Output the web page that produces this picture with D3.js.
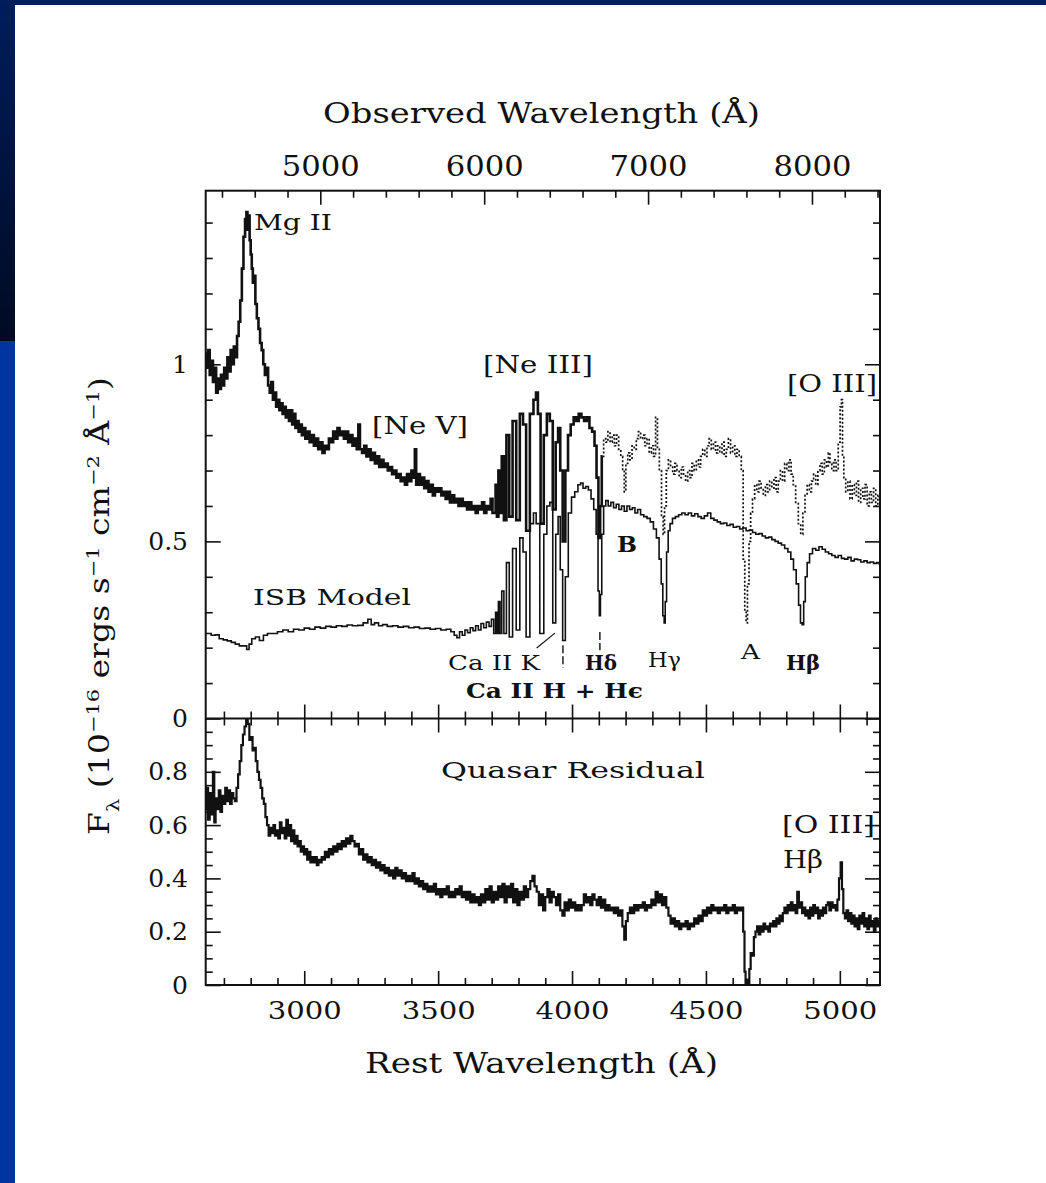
<!DOCTYPE html>
<html>
<head>
<meta charset="utf-8">
<script src="https://cdn.jsdelivr.net/npm/d3@7"></script>
<style>
  html, body { margin: 0; padding: 0; background: #fff; }
  text { font-family: "DejaVu Serif", serif; fill: #111; }
</style>
</head>
<body>
<script>
// ---- data: [rest wavelength (A), F_lambda] ----
var obsSolid = [[2632,1.03],[2638,0.99],[2644,1.04],[2650,0.97],[2656,1.01],[2662,0.95],[2668,0.99],[2674,0.92],[2680,0.96],[2686,0.93],[2692,0.97],[2698,0.94],[2704,0.99],[2710,0.96],[2716,1.02],[2722,0.98],[2728,1.04],[2734,1.00],[2740,1.05],[2746,1.02],[2752,1.08],[2758,1.12],[2764,1.18],[2770,1.27],[2776,1.36],[2782,1.41],[2786,1.43],[2790,1.38],[2794,1.42],[2798,1.35],[2802,1.31],[2806,1.27],[2810,1.23],[2815,1.25],[2820,1.17],[2826,1.13],[2832,1.10],[2838,1.06],[2844,1.04],[2850,1.00],[2856,0.97],[2862,0.99],[2868,0.94],[2874,0.92],[2880,0.95],[2886,0.90],[2892,0.92],[2898,0.88],[2904,0.90],[2910,0.87],[2916,0.89],[2922,0.86],[2928,0.88],[2934,0.85],[2940,0.87],[2946,0.84],[2952,0.87],[2958,0.83],[2964,0.86],[2970,0.82],[2976,0.84],[2982,0.81],[2988,0.83],[2994,0.80],[3000,0.82],[3008,0.79],[3016,0.81],[3024,0.78],[3032,0.80],[3040,0.77],[3048,0.79],[3056,0.76],[3064,0.78],[3072,0.75],[3080,0.77],[3088,0.76],[3096,0.79],[3104,0.78],[3112,0.81],[3120,0.79],[3128,0.82],[3136,0.80],[3144,0.81],[3152,0.79],[3160,0.81],[3168,0.78],[3176,0.80],[3184,0.77],[3192,0.79],[3200,0.76],[3204,0.83],[3212,0.76],[3220,0.75],[3228,0.77],[3236,0.74],[3244,0.76],[3252,0.73],[3260,0.75],[3268,0.72],[3276,0.74],[3284,0.71],[3292,0.73],[3300,0.71],[3308,0.72],[3316,0.70],[3324,0.71],[3332,0.69],[3340,0.70],[3348,0.68],[3356,0.69],[3364,0.67],[3372,0.68],[3380,0.66],[3388,0.69],[3396,0.67],[3404,0.70],[3410,0.68],[3416,0.76],[3420,0.66],[3428,0.69],[3436,0.66],[3444,0.68],[3452,0.65],[3460,0.67],[3468,0.64],[3476,0.66],[3484,0.63],[3492,0.65],[3500,0.64],[3508,0.65],[3516,0.63],[3524,0.64],[3532,0.62],[3540,0.64],[3548,0.61],[3556,0.63],[3564,0.61],[3572,0.62],[3580,0.60],[3588,0.62],[3596,0.60],[3604,0.61],[3612,0.59],[3620,0.61],[3628,0.59],[3636,0.60],[3644,0.58],[3652,0.60],[3660,0.59],[3668,0.61],[3676,0.58],[3684,0.60],[3692,0.59],[3700,0.62],[3706,0.58],[3712,0.58],[3717,0.66],[3722,0.57],[3728,0.70],[3734,0.58],[3741,0.74],[3750,0.56],[3760,0.80],[3771,0.57],[3785,0.84],[3798,0.56],[3812,0.86],[3822,0.83],[3835,0.53],[3850,0.86],[3862,0.90],[3869,0.92],[3876,0.86],[3889,0.55],[3900,0.80],[3912,0.86],[3922,0.84],[3934,0.59],[3944,0.78],[3952,0.82],[3960,0.70],[3970,0.50],[3980,0.70],[3990,0.80],[4000,0.83],[4012,0.85],[4020,0.84],[4030,0.86],[4040,0.85],[4050,0.84],[4060,0.85],[4070,0.82],[4080,0.81],[4088,0.77],[4095,0.68],[4102,0.51],[4108,0.60],[4114,0.74]];

var obsDotted = [[4114,0.74],[4122,0.79],[4130,0.78],[4138,0.81],[4146,0.78],[4154,0.80],[4162,0.77],[4170,0.80],[4178,0.76],[4186,0.74],[4192,0.70],[4198,0.64],[4204,0.72],[4212,0.75],[4220,0.73],[4228,0.77],[4236,0.76],[4244,0.79],[4252,0.81],[4260,0.79],[4268,0.80],[4276,0.77],[4284,0.79],[4292,0.75],[4300,0.77],[4308,0.74],[4316,0.85],[4322,0.76],[4330,0.70],[4338,0.57],[4343,0.52],[4348,0.60],[4356,0.70],[4364,0.73],[4372,0.71],[4380,0.69],[4388,0.72],[4396,0.70],[4404,0.68],[4412,0.71],[4420,0.69],[4428,0.67],[4436,0.70],[4444,0.68],[4452,0.72],[4460,0.70],[4468,0.73],[4476,0.71],[4484,0.74],[4492,0.76],[4500,0.74],[4508,0.77],[4516,0.79],[4524,0.76],[4532,0.78],[4540,0.75],[4548,0.77],[4556,0.75],[4564,0.78],[4572,0.74],[4580,0.76],[4588,0.79],[4596,0.75],[4604,0.77],[4612,0.74],[4620,0.76],[4628,0.74],[4636,0.70],[4642,0.45],[4648,0.30],[4652,0.27],[4658,0.38],[4664,0.50],[4670,0.58],[4678,0.62],[4686,0.66],[4694,0.64],[4702,0.67],[4710,0.65],[4718,0.63],[4726,0.66],[4734,0.64],[4742,0.67],[4750,0.65],[4758,0.68],[4766,0.64],[4774,0.67],[4782,0.70],[4790,0.67],[4798,0.72],[4806,0.70],[4814,0.73],[4822,0.69],[4830,0.66],[4840,0.61],[4850,0.55],[4858,0.52],[4866,0.58],[4874,0.63],[4882,0.66],[4890,0.64],[4898,0.67],[4906,0.69],[4914,0.66],[4922,0.70],[4930,0.72],[4938,0.69],[4946,0.73],[4954,0.71],[4960,0.75],[4966,0.72],[4974,0.70],[4982,0.73],[4990,0.70],[4998,0.78],[5004,0.88],[5008,0.90],[5012,0.74],[5018,0.68],[5026,0.64],[5034,0.67],[5042,0.62],[5050,0.66],[5058,0.63],[5066,0.67],[5074,0.61],[5082,0.65],[5090,0.62],[5098,0.66],[5106,0.60],[5114,0.64],[5122,0.61],[5130,0.65],[5138,0.60],[5146,0.63],[5150,0.62]];

var isbModel = [[2632,0.24],[2645,0.24],[2660,0.235],[2675,0.236],[2690,0.225],[2705,0.222],[2720,0.219],[2735,0.215],[2750,0.21],[2765,0.205],[2780,0.205],[2790,0.195],[2798,0.21],[2810,0.225],[2825,0.23],[2840,0.22],[2855,0.235],[2870,0.24],[2890,0.24],[2910,0.245],[2930,0.25],[2950,0.245],[2970,0.252],[2990,0.25],[3010,0.255],[3030,0.252],[3050,0.258],[3070,0.255],[3090,0.26],[3110,0.258],[3130,0.262],[3150,0.26],[3170,0.264],[3190,0.262],[3210,0.263],[3230,0.27],[3245,0.28],[3255,0.265],[3270,0.27],[3285,0.262],[3300,0.265],[3320,0.26],[3340,0.262],[3360,0.258],[3380,0.26],[3400,0.256],[3420,0.258],[3440,0.254],[3460,0.255],[3480,0.252],[3500,0.254],[3520,0.25],[3540,0.252],[3555,0.245],[3565,0.235],[3575,0.228],[3585,0.245],[3595,0.235],[3605,0.25],[3615,0.242],[3625,0.256],[3635,0.248],[3645,0.262],[3655,0.25],[3665,0.268],[3675,0.256],[3685,0.272],[3695,0.26],[3703,0.28],[3712,0.24],[3717,0.30],[3722,0.24],[3728,0.33],[3734,0.24],[3741,0.36],[3750,0.24],[3760,0.44],[3771,0.23],[3785,0.48],[3798,0.25],[3812,0.51],[3822,0.47],[3835,0.23],[3850,0.55],[3862,0.58],[3870,0.55],[3889,0.24],[3900,0.52],[3912,0.60],[3922,0.61],[3934,0.27],[3944,0.52],[3952,0.57],[3960,0.42],[3970,0.22],[3980,0.40],[3992,0.58],[4004,0.625],[4016,0.64],[4028,0.66],[4036,0.665],[4046,0.65],[4056,0.655],[4066,0.645],[4076,0.62],[4086,0.59],[4094,0.52],[4100,0.36],[4104,0.29],[4108,0.35],[4114,0.52],[4122,0.60],[4130,0.615],[4140,0.60],[4150,0.61],[4160,0.595],[4170,0.605],[4180,0.59],[4190,0.60],[4200,0.585],[4210,0.60],[4220,0.59],[4230,0.595],[4240,0.58],[4250,0.59],[4262,0.575],[4274,0.57],[4286,0.565],[4298,0.555],[4310,0.535],[4320,0.51],[4330,0.45],[4336,0.38],[4342,0.29],[4346,0.27],[4350,0.33],[4356,0.47],[4362,0.53],[4370,0.55],[4380,0.565],[4392,0.57],[4404,0.575],[4416,0.58],[4428,0.575],[4440,0.58],[4452,0.572],[4464,0.578],[4476,0.57],[4488,0.565],[4500,0.572],[4512,0.58],[4524,0.565],[4536,0.56],[4548,0.555],[4560,0.55],[4572,0.552],[4584,0.545],[4596,0.548],[4608,0.54],[4620,0.542],[4632,0.535],[4644,0.538],[4656,0.53],[4668,0.532],[4680,0.525],[4692,0.52],[4704,0.522],[4716,0.515],[4728,0.51],[4740,0.512],[4752,0.505],[4764,0.50],[4776,0.495],[4788,0.49],[4800,0.48],[4812,0.47],[4822,0.45],[4832,0.42],[4842,0.38],[4850,0.32],[4856,0.27],[4862,0.265],[4868,0.33],[4874,0.40],[4882,0.44],[4892,0.465],[4904,0.48],[4916,0.475],[4928,0.485],[4940,0.478],[4952,0.47],[4964,0.465],[4976,0.46],[4988,0.455],[5000,0.46],[5012,0.452],[5024,0.45],[5036,0.455],[5048,0.445],[5060,0.45],[5072,0.448],[5084,0.442],[5096,0.445],[5108,0.44],[5120,0.442],[5132,0.438],[5144,0.44],[5150,0.436]];

var qsoResidual = [[2632,0.66],[2638,0.74],[2644,0.62],[2650,0.72],[2656,0.64],[2662,0.80],[2666,0.61],[2672,0.70],[2678,0.66],[2684,0.73],[2690,0.65],[2696,0.71],[2702,0.68],[2708,0.74],[2714,0.69],[2720,0.73],[2726,0.68],[2732,0.72],[2738,0.70],[2744,0.69],[2750,0.74],[2756,0.79],[2762,0.84],[2768,0.90],[2774,0.94],[2780,0.97],[2786,1.0],[2792,0.98],[2798,0.92],[2804,0.93],[2810,0.88],[2816,0.89],[2822,0.84],[2828,0.80],[2834,0.77],[2840,0.74],[2846,0.70],[2852,0.68],[2858,0.63],[2864,0.60],[2870,0.56],[2876,0.59],[2882,0.57],[2888,0.60],[2894,0.56],[2900,0.58],[2906,0.55],[2912,0.61],[2918,0.57],[2924,0.59],[2930,0.55],[2936,0.62],[2942,0.56],[2948,0.60],[2954,0.54],[2960,0.58],[2966,0.53],[2972,0.56],[2978,0.52],[2984,0.54],[2990,0.50],[2996,0.52],[3002,0.49],[3008,0.51],[3014,0.47],[3020,0.50],[3026,0.46],[3032,0.48],[3038,0.46],[3044,0.48],[3050,0.45],[3056,0.47],[3062,0.46],[3068,0.48],[3074,0.47],[3080,0.50],[3088,0.48],[3096,0.51],[3104,0.49],[3112,0.52],[3120,0.50],[3128,0.53],[3136,0.51],[3144,0.54],[3152,0.52],[3160,0.55],[3168,0.53],[3176,0.56],[3184,0.54],[3192,0.52],[3200,0.53],[3208,0.49],[3216,0.51],[3224,0.47],[3232,0.49],[3240,0.46],[3248,0.48],[3256,0.45],[3264,0.47],[3272,0.44],[3280,0.46],[3288,0.43],[3296,0.45],[3304,0.42],[3312,0.44],[3320,0.41],[3328,0.43],[3336,0.40],[3344,0.44],[3352,0.41],[3360,0.43],[3368,0.40],[3376,0.42],[3384,0.39],[3392,0.41],[3400,0.39],[3408,0.42],[3416,0.38],[3424,0.40],[3432,0.37],[3440,0.39],[3448,0.36],[3456,0.38],[3464,0.35],[3472,0.37],[3480,0.35],[3488,0.38],[3496,0.34],[3504,0.36],[3512,0.33],[3520,0.36],[3528,0.34],[3536,0.37],[3544,0.33],[3552,0.35],[3560,0.33],[3568,0.36],[3576,0.34],[3584,0.37],[3592,0.33],[3600,0.35],[3608,0.32],[3616,0.35],[3624,0.31],[3632,0.34],[3640,0.31],[3648,0.33],[3656,0.30],[3664,0.34],[3672,0.31],[3680,0.36],[3688,0.32],[3696,0.37],[3704,0.31],[3712,0.35],[3720,0.32],[3728,0.37],[3736,0.33],[3744,0.38],[3752,0.31],[3760,0.37],[3768,0.33],[3776,0.38],[3784,0.31],[3792,0.36],[3800,0.30],[3808,0.35],[3816,0.32],[3824,0.37],[3832,0.33],[3840,0.36],[3848,0.39],[3856,0.41],[3864,0.37],[3872,0.35],[3880,0.30],[3888,0.34],[3896,0.28],[3904,0.33],[3912,0.36],[3920,0.31],[3928,0.35],[3936,0.33],[3944,0.30],[3952,0.34],[3960,0.28],[3968,0.26],[3976,0.31],[3984,0.28],[3992,0.32],[4000,0.29],[4008,0.31],[4016,0.28],[4024,0.30],[4032,0.28],[4040,0.30],[4048,0.34],[4056,0.31],[4064,0.33],[4072,0.30],[4080,0.34],[4088,0.32],[4096,0.30],[4104,0.33],[4112,0.29],[4120,0.32],[4128,0.28],[4136,0.30],[4144,0.28],[4152,0.29],[4160,0.27],[4168,0.29],[4176,0.26],[4184,0.28],[4192,0.22],[4198,0.17],[4204,0.24],[4212,0.27],[4220,0.29],[4228,0.27],[4236,0.30],[4244,0.28],[4252,0.30],[4260,0.29],[4268,0.31],[4276,0.28],[4284,0.30],[4292,0.29],[4300,0.32],[4308,0.30],[4316,0.35],[4324,0.31],[4332,0.34],[4340,0.30],[4348,0.33],[4356,0.29],[4364,0.26],[4372,0.23],[4380,0.25],[4388,0.22],[4396,0.24],[4404,0.21],[4412,0.23],[4420,0.22],[4428,0.24],[4436,0.21],[4444,0.23],[4452,0.22],[4460,0.25],[4468,0.23],[4476,0.26],[4484,0.24],[4492,0.28],[4500,0.26],[4508,0.29],[4516,0.27],[4524,0.30],[4532,0.28],[4540,0.29],[4548,0.27],[4556,0.29],[4564,0.28],[4572,0.30],[4580,0.27],[4588,0.29],[4596,0.28],[4604,0.30],[4612,0.27],[4620,0.29],[4628,0.28],[4636,0.29],[4642,0.20],[4646,0.05],[4650,0.0],[4656,0.02],[4660,0.0],[4664,0.06],[4670,0.12],[4676,0.11],[4682,0.18],[4688,0.20],[4694,0.22],[4700,0.19],[4706,0.22],[4712,0.20],[4718,0.23],[4724,0.21],[4730,0.22],[4736,0.20],[4742,0.23],[4748,0.22],[4754,0.24],[4760,0.22],[4766,0.25],[4772,0.23],[4778,0.26],[4784,0.24],[4790,0.27],[4796,0.29],[4802,0.27],[4808,0.30],[4814,0.28],[4820,0.31],[4826,0.28],[4832,0.30],[4838,0.27],[4844,0.35],[4850,0.29],[4856,0.31],[4862,0.27],[4868,0.29],[4874,0.26],[4880,0.28],[4886,0.25],[4892,0.29],[4898,0.26],[4904,0.30],[4910,0.27],[4916,0.29],[4922,0.25],[4928,0.28],[4934,0.26],[4940,0.29],[4946,0.27],[4952,0.30],[4958,0.31],[4964,0.28],[4970,0.31],[4976,0.29],[4982,0.30],[4988,0.28],[4994,0.32],[5000,0.40],[5006,0.46],[5010,0.36],[5016,0.27],[5022,0.25],[5028,0.28],[5034,0.24],[5040,0.27],[5046,0.23],[5052,0.26],[5058,0.22],[5064,0.25],[5070,0.21],[5076,0.26],[5082,0.23],[5088,0.27],[5094,0.22],[5100,0.25],[5106,0.21],[5112,0.26],[5118,0.22],[5124,0.24],[5130,0.20],[5136,0.25],[5142,0.22],[5150,0.24]];

var restTicks = [3000, 3500, 4000, 4500, 5000];
var obsTicks = [5000, 6000, 7000, 8000];
var topFluxTicks = [0, 0.5, 1];
var botFluxTicks = [0, 0.2, 0.4, 0.6, 0.8];
var redshift = 0.634;

// leader lines for the absorption labels, [rest wavelength, flux]
var kLeader = [[3868, 0.199], [3936, 0.241]];
var hLeader = [[3966, 0.207], [3966, 0.143]];
var hdLeader = [[4104, 0.244], [4104, 0.193]];

var W = 1046, H = 1183;
var box = { left: 205.7, right: 880, top: 190.7, mid: 718.5, bottom: 985 };

var svg = d3.select('body').append('svg')
    .attr('width', W)
    .attr('height', H);

// slide background
var defs = svg.append('defs');
var grad = defs.append('linearGradient').attr('id', 'strip')
    .attr('x1', 0).attr('y1', 0).attr('x2', 0).attr('y2', 1);
grad.append('stop').attr('offset', '0%').attr('stop-color', '#001d5c');
grad.append('stop').attr('offset', '100%').attr('stop-color', '#000a22');

svg.append('rect').attr('width', W).attr('height', H).attr('fill', '#fff');
svg.append('rect').attr('x', 0).attr('y', 0).attr('width', W).attr('height', 5).attr('fill', '#001d5c');
svg.append('rect').attr('x', 0).attr('y', 0).attr('width', 15).attr('height', 341).attr('fill', 'url(#strip)');
svg.append('rect').attr('x', 0).attr('y', 341).attr('width', 15).attr('height', H - 341).attr('fill', '#0034a0');

// scales
var xRest = d3.scaleLinear().domain([2632, 5150]).range([box.left, box.right]);
var xObs = d3.scaleLinear().domain([2632 * (1 + redshift), 5150 * (1 + redshift)]).range([box.left, box.right]);
var yTop = d3.scaleLinear().domain([0, 1.49]).range([box.mid, box.top]);
var yBot = d3.scaleLinear().domain([0, 1.0]).range([box.bottom, box.mid]);

defs.append('clipPath').attr('id', 'clipTop').append('rect')
    .attr('x', box.left).attr('y', box.top).attr('width', box.right - box.left).attr('height', box.mid - box.top);
defs.append('clipPath').attr('id', 'clipBot').append('rect')
    .attr('x', box.left).attr('y', box.mid).attr('width', box.right - box.left).attr('height', box.bottom - box.mid);

// axes helper: ticks point into the panel, no domain path
function ticks(axisFn, scale, vals, size, y, x, labels, pad, fsize, tlen) {
    var a = axisFn(scale).tickValues(vals).tickSizeInner(size).tickSizeOuter(0)
        .tickPadding(pad || 0)
        .tickFormat(labels ? function(d) { return String(d); } : function() { return ''; });
    var g = svg.append('g')
        .attr('transform', 'translate(' + (x || 0) + ',' + (y || 0) + ')')
        .call(a);
    g.select('.domain').remove();
    g.selectAll('.tick line').attr('stroke', '#111').attr('stroke-width', 1.6);
    g.selectAll('.tick text').attr('fill', '#111')
        .style('font-family', '"DejaVu Serif", serif')
        .attr('font-size', fsize || 25);
    if (tlen) g.selectAll('.tick text').attr('textLength', tlen).attr('lengthAdjust', 'spacingAndGlyphs');
    return g;
}

var restMinor = d3.range(2700, 5150, 100).filter(function(d) { return d % 500; });
var obsMinor = d3.range(4400, 8415, 200).filter(function(d) { return d % 1000; });
var topMinor = d3.range(0.1, 1.49, 0.1).filter(function(d) { return Math.abs(d - 0.5) > 0.01 && Math.abs(d - 1) > 0.01; });
var botMinor = d3.range(0.05, 1.0, 0.05).filter(function(d) { return Math.abs(d * 5 - Math.round(d * 5)) > 0.01; });

// top axis (observed wavelength)
ticks(d3.axisTop, xObs, obsTicks, -14, box.top, 0, true, 15, 27, 78);
ticks(d3.axisTop, xObs, obsMinor, -7, box.top);
// divider: ticks both ways
ticks(d3.axisBottom, xRest, restTicks, -14, box.mid);
ticks(d3.axisBottom, xRest, restMinor, -7, box.mid);
ticks(d3.axisTop, xRest, restTicks, -14, box.mid);
ticks(d3.axisTop, xRest, restMinor, -7, box.mid);
// bottom axis (rest wavelength)
ticks(d3.axisBottom, xRest, restTicks, -14, box.bottom, 0, true, 16, 25, 74);
ticks(d3.axisBottom, xRest, restMinor, -7, box.bottom);
// flux axes, left with labels, right without
ticks(d3.axisLeft, yTop, topFluxTicks, -15, 0, box.left, true, 17.7, 25);
ticks(d3.axisLeft, yTop, topMinor, -7, 0, box.left);
ticks(d3.axisRight, yTop, topFluxTicks, -15, 0, box.right);
ticks(d3.axisRight, yTop, topMinor, -7, 0, box.right);
ticks(d3.axisLeft, yBot, botFluxTicks, -15, 0, box.left, true, 17.7, 25);
ticks(d3.axisLeft, yBot, botMinor, -7, 0, box.left);
ticks(d3.axisRight, yBot, botFluxTicks, -15, 0, box.right);
ticks(d3.axisRight, yBot, botMinor, -7, 0, box.right);

// spectra
function stepLine(ys) {
    return d3.line()
        .x(function(d) { return xRest(d[0]); })
        .y(function(d) { return ys(d[1]); })
        .curve(d3.curveStep);
}

var topG = svg.append('g').attr('clip-path', 'url(#clipTop)');
topG.append('path').datum(isbModel).attr('d', stepLine(yTop))
    .attr('fill', 'none').attr('stroke', '#111').attr('stroke-width', 1.6);
topG.append('path').datum(obsSolid).attr('d', stepLine(yTop))
    .attr('fill', 'none').attr('stroke', '#111').attr('stroke-width', 2.6).attr('stroke-linejoin', 'miter');
topG.append('path').datum(obsDotted).attr('d', stepLine(yTop))
    .attr('fill', 'none').attr('stroke', '#111').attr('stroke-width', 1.7).attr('stroke-dasharray', '2,2');

var botG = svg.append('g').attr('clip-path', 'url(#clipBot)');
botG.append('path').datum(qsoResidual).attr('d', stepLine(yBot))
    .attr('fill', 'none').attr('stroke', '#111').attr('stroke-width', 2.2);

// leader lines
var lead = d3.line().x(function(d) { return xRest(d[0]); }).y(function(d) { return yTop(d[1]); });
svg.append('path').datum(kLeader).attr('d', lead).attr('stroke', '#111').attr('stroke-width', 1.2);
svg.append('path').datum(hLeader).attr('d', lead).attr('stroke', '#111').attr('stroke-width', 1.4).attr('stroke-dasharray', '8,3');
svg.append('path').datum(hdLeader).attr('d', lead).attr('stroke', '#111').attr('stroke-width', 1.4).attr('stroke-dasharray', '8,3');

// frames
svg.append('rect').attr('x', box.left).attr('y', box.top)
    .attr('width', box.right - box.left).attr('height', box.bottom - box.top)
    .attr('fill', 'none').attr('stroke', '#111').attr('stroke-width', 2);
svg.append('line').attr('x1', box.left).attr('x2', box.right)
    .attr('y1', box.mid).attr('y2', box.mid).attr('stroke', '#111').attr('stroke-width', 2);

// labels
function label(txt, x, y, size, len, bold, anchor) {
    var t = svg.append('text').attr('x', x).attr('y', y)
        .attr('font-size', size).text(txt);
    if (len) t.attr('textLength', len).attr('lengthAdjust', 'spacingAndGlyphs');
    if (bold) t.attr('font-weight', 'bold');
    if (anchor) t.attr('text-anchor', anchor);
    return t;
}

label('Observed Wavelength (Å)', 323, 123, 27, 437);
label('Rest Wavelength (Å)', 365, 1073, 27, 353);

label('Mg II', 254, 230, 23, 78);
label('[Ne V]', 372, 434, 25, 96);
label('[Ne III]', 483, 373, 25, 110);
label('[O III]', 787, 392, 24, 90);
label('B', 617, 552, 23, 20, true);
label('ISB Model', 253, 605, 23, 158);
label('Ca II K', 448, 670, 20, 92);
label('Hδ', 585, 670, 20, 32, true);
label('Hγ', 648, 667, 20, 33);
label('A', 741, 659, 20, 19);
label('Hβ', 786, 670, 20, 34, true);
label('Ca II H + Hϵ', 466, 698, 20, 177, true);
label('Quasar Residual', 441, 778, 22, 264);
label('[O III]', 782, 833, 24, 93);
label('Hβ', 783, 868, 24, 40);

// y axis title
var yt = svg.append('text')
    .attr('transform', 'translate(109,606) rotate(-90)')
    .attr('text-anchor', 'middle')
    .attr('font-size', 27)
    .attr('textLength', 458)
    .attr('lengthAdjust', 'spacingAndGlyphs');
yt.append('tspan').text('F');
yt.append('tspan').attr('baseline-shift', 'sub').attr('font-size', 17).text('λ');
yt.append('tspan').text(' (10');
yt.append('tspan').attr('baseline-shift', 'super').attr('font-size', 17).text('−16');
yt.append('tspan').text(' ergs s');
yt.append('tspan').attr('baseline-shift', 'super').attr('font-size', 17).text('−1');
yt.append('tspan').text(' cm');
yt.append('tspan').attr('baseline-shift', 'super').attr('font-size', 17).text('−2');
yt.append('tspan').text(' Å');
yt.append('tspan').attr('baseline-shift', 'super').attr('font-size', 17).text('−1');
yt.append('tspan').text(')');
</script>
</body>
</html>
